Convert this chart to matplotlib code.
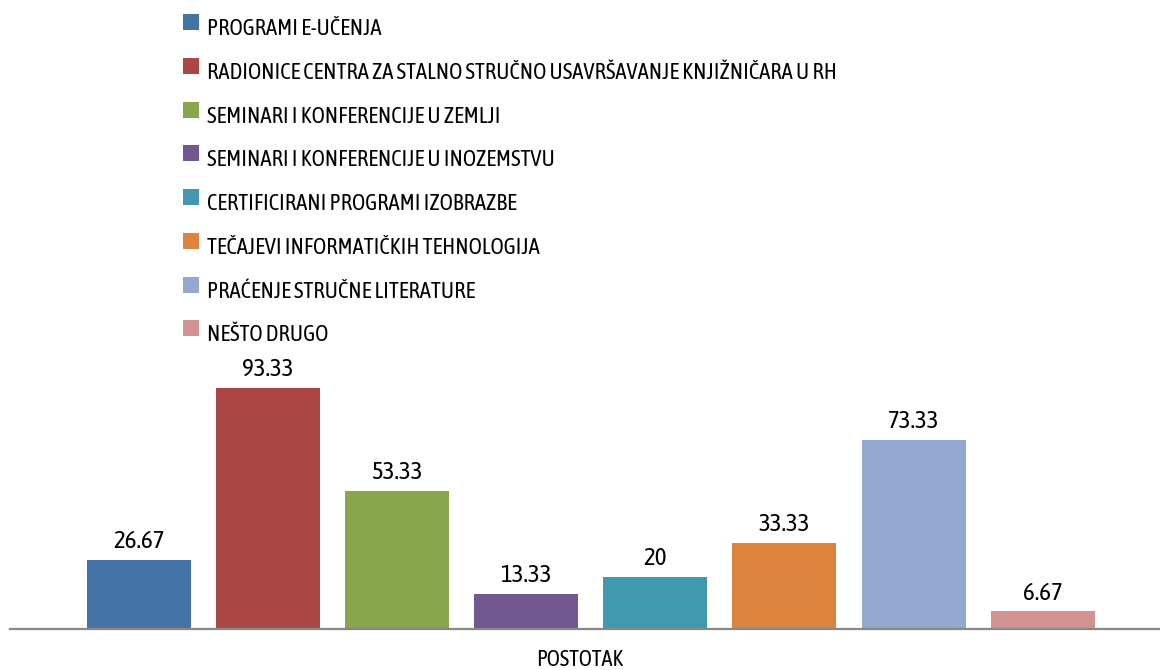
import matplotlib
matplotlib.use("Agg")
import matplotlib.pyplot as plt
from matplotlib import font_manager
from matplotlib.patches import Rectangle

categories = [
    "PROGRAMI E-UČENJA",
    "RADIONICE CENTRA ZA STALNO STRUČNO USAVRŠAVANJE KNJIŽNIČARA U RH",
    "SEMINARI I KONFERENCIJE U ZEMLJI",
    "SEMINARI I KONFERENCIJE U INOZEMSTVU",
    "CERTIFICIRANI PROGRAMI IZOBRAZBE",
    "TEČAJEVI INFORMATIČKIH TEHNOLOGIJA",
    "PRAĆENJE STRUČNE LITERATURE",
    "NEŠTO DRUGO",
]
values = [26.67, 93.33, 53.33, 13.33, 20, 33.33, 73.33, 6.67]
colors = ["#4572A7", "#AA4643", "#89A54E", "#71588F",
          "#4198AF", "#DB843D", "#93A9CF", "#D19392"]
axis_label = "POSTOTAK"

names = {f.name for f in font_manager.fontManager.ttflist}
base = "DejaVu Sans"
for cand in ["Asap Condensed", "Roboto Condensed", "Archivo Narrow"]:
    if cand in names:
        base = cand
        break
plt.rcParams["font.family"] = [base, "DejaVu Sans"]

W, H = 1160, 670
fig = plt.figure(figsize=(W / 100, H / 100), dpi=100)
base_px = 628.5
ax = fig.add_axes([10 / W, (H - base_px) / H, 1150 / W, base_px / H])

for i, (v, c, lab) in enumerate(zip(values, colors, categories)):
    ax.bar(i, v, width=0.806, color=c, label=lab, zorder=2)
    ax.annotate(f"{v:g}", xy=(i, v), xytext=(0, 8.5), textcoords="offset points",
                ha="center", va="baseline", fontsize=18, color="#000000")

ax.set_xlim(-0.999, 7.909)
ax.set_ylim(0, base_px / 2.577)
for s in ["top", "left", "right"]:
    ax.spines[s].set_visible(False)
ax.spines["bottom"].set_color("#888888")
ax.spines["bottom"].set_linewidth(1.6)
ax.spines["bottom"].set_zorder(3)
ax.set_xticks([])
ax.set_yticks([])
ax.patch.set_visible(False)

fig.text(580 / W, (H - 666.5) / H, axis_label, ha="center", va="baseline",
         fontsize=16, color="#000000")

# legend (manual layout, one row per series)
row0, step = 35.3, 43.7
for i, (lab, c) in enumerate(zip(categories, colors)):
    yb = row0 + step * i
    fig.patches.append(Rectangle((183 / W, (H - yb + 5) / H), 16 / W, 16 / H,
                                 transform=fig.transFigure, facecolor=c,
                                 edgecolor="none"))
    fig.text(207 / W, (H - yb) / H, lab, ha="left", va="baseline",
             fontsize=16.3, color="#000000")

fig.savefig("out.png", dpi=100)
